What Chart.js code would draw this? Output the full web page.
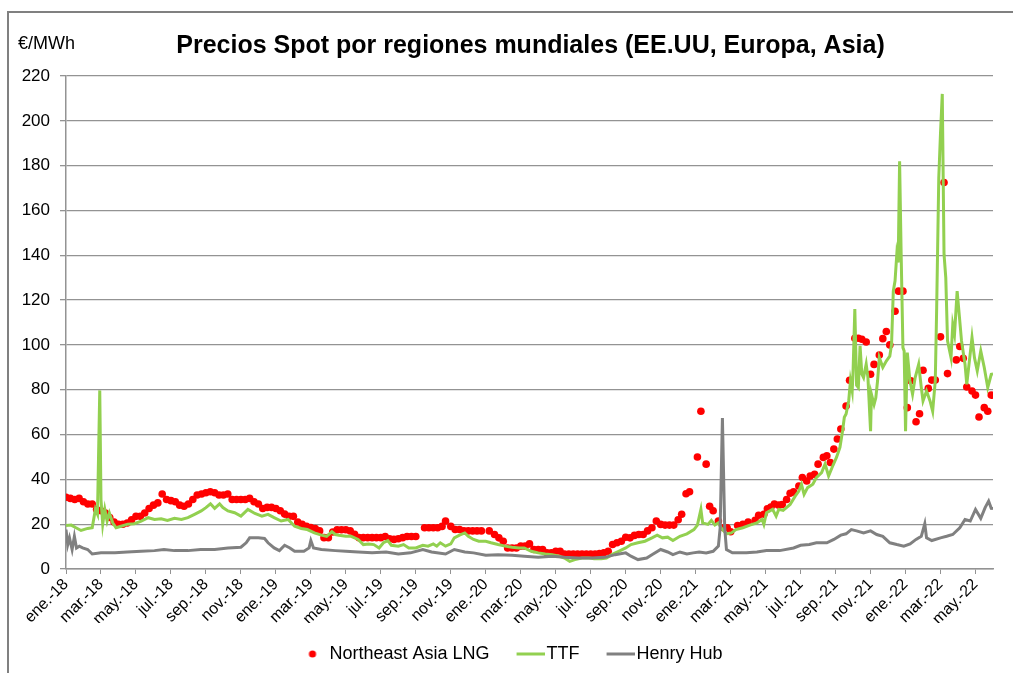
<!DOCTYPE html>
<html>
<head>
<meta charset="utf-8">
<script src="https://cdn.jsdelivr.net/npm/chart.js@4.4.1/dist/chart.umd.min.js"></script>
<style>
  body { margin: 0; background: #fff; }
  #wrap { position: relative; width: 1013px; height: 673px; }
  #frame { position: absolute; left: 7px; top: 11px; right: 0; bottom: 0;
           border-top: 2px solid #808080; border-left: 2px solid #808080; }
  #spot_chart { position: relative; }
</style>
</head>
<body>
<div id="wrap">
  <div id="frame"></div>
  <canvas id="spot_chart"></canvas>
</div>
<script>
// Texts
var chartTitle = 'Precios Spot por regiones mundiales (EE.UU, Europa, Asia)';
var unitLabel = '€/MWh';

// X tick labels, one every two months starting at ene.-18.
var tickLabels = [
    'ene.-18', 'mar.-18', 'may.-18', 'jul.-18', 'sep.-18', 'nov.-18',
    'ene.-19', 'mar.-19', 'may.-19', 'jul.-19', 'sep.-19', 'nov.-19',
    'ene.-20', 'mar.-20', 'may.-20', 'jul.-20', 'sep.-20', 'nov.-20',
    'ene.-21', 'mar.-21', 'may.-21', 'jul.-21', 'sep.-21', 'nov.-21',
    'ene.-22', 'mar.-22', 'may.-22'
];

// Series: [months since 1 Jan 2018, €/MWh]
var lngSeries = [
    [0, 32], [0.25, 31.5], [0.5, 31], [0.75, 31.5], [1, 30], [1.25, 29], [1.5, 29], [1.75, 26.5],
    [2, 26], [2.25, 25], [2.5, 23], [2.75, 21], [3, 20], [3.25, 20], [3.5, 20.5], [3.75, 22],
    [4, 23.5], [4.25, 23.5], [4.5, 25], [4.75, 27], [5, 28.5], [5.25, 29.5], [5.5, 33.5], [5.75, 31],
    [6, 30.5], [6.25, 30], [6.5, 28.5], [6.75, 28], [7, 29], [7.25, 31], [7.5, 33], [7.75, 33.5],
    [8, 34], [8.25, 34.5], [8.5, 34], [8.75, 33], [9, 33], [9.25, 33.5], [9.5, 31], [9.75, 31],
    [10, 31], [10.25, 31], [10.5, 31.5], [10.75, 30], [11, 29], [11.25, 27], [11.5, 27.5], [11.75, 27.5],
    [12, 27], [12.25, 26], [12.5, 24.5], [12.75, 23.5], [13, 23.5], [13.25, 21], [13.5, 20], [13.75, 19],
    [14, 18.5], [14.25, 18], [14.5, 17], [14.75, 14], [15, 14], [15.25, 16.5], [15.5, 17.5], [15.75, 17.5],
    [16, 17.5], [16.25, 17], [16.5, 15.5], [16.75, 14], [17, 14], [17.25, 14], [17.5, 14], [17.75, 14],
    [18, 14], [18.25, 14.5], [18.5, 13.5], [18.75, 13.2], [19, 13.5], [19.25, 14], [19.5, 14.5], [19.75, 14.5],
    [20, 14.5], [20.5, 18.4], [20.75, 18.4], [21, 18.4], [21.25, 18.4], [21.5, 19], [21.7, 21.4], [22, 19],
    [22.25, 17.6], [22.5, 17.6], [22.75, 17], [23, 17], [23.25, 17], [23.5, 17], [23.75, 17], [24.2, 17],
    [24.5, 15.4], [24.75, 13.9], [25, 12.4], [25.25, 9.4], [25.5, 9.4], [25.75, 9.4], [26, 10.2], [26.25, 10.2],
    [26.5, 11.2], [26.75, 8.7], [27, 8.7], [27.25, 8.7], [27.5, 7.2], [27.75, 7.2], [28, 7.9], [28.25, 7.9],
    [28.5, 6.7], [28.75, 6.7], [29, 6.7], [29.25, 6.7], [29.5, 6.7], [29.75, 6.7], [30, 6.7], [30.25, 6.7],
    [30.5, 6.9], [30.75, 7.2], [31, 7.9], [31.25, 10.9], [31.5, 11.7], [31.75, 12.4], [32, 14.2], [32.25, 13.9],
    [32.5, 15], [32.75, 15.4], [33, 15.4], [33.25, 17], [33.5, 18.4], [33.75, 21.4], [34, 19.9], [34.25, 19.6],
    [34.5, 19.6], [34.75, 19.6], [35, 22], [35.2, 24.4], [35.45, 33.6], [35.65, 34.5], [36.1, 50], [36.3, 70.4],
    [36.6, 46.8], [36.8, 28], [37, 26], [37.3, 21.4], [37.6, 18.4], [37.8, 18.4], [38, 16.6], [38.4, 19.4],
    [38.7, 19.9], [39, 21], [39.4, 21.7], [39.6, 24], [39.9, 24.4], [40.1, 26.9], [40.3, 27.6], [40.5, 29],
    [40.75, 28.5], [40.95, 28.8], [41.2, 31], [41.4, 33.8], [41.6, 34.4], [41.9, 37], [42.1, 40.8], [42.35, 39.3],
    [42.55, 41.5], [42.8, 42.3], [43, 46.8], [43.3, 49.8], [43.5, 50.5], [43.7, 47.5], [43.9, 53.5], [44.1, 58],
    [44.3, 62.5], [44.6, 72.7], [44.8, 84.2], [45.1, 103], [45.3, 103], [45.5, 102.5], [45.75, 101.3], [46, 86.9],
    [46.2, 91.3], [46.5, 95.5], [46.7, 102.8], [46.9, 106], [47.1, 100], [47.4, 115], [47.6, 124], [47.85, 124],
    [48.1, 72], [48.3, 84], [48.6, 65.7], [48.8, 69.3], [49, 88.7], [49.3, 80.6], [49.5, 84.3], [49.7, 84.3],
    [50, 103.6], [50.2, 172.5], [50.4, 87.2], [50.9, 93.3], [51.1, 99.3], [51.3, 94], [51.5, 81.2], [51.8, 79.4],
    [52, 77.6], [52.2, 67.8], [52.5, 72], [52.7, 70.4], [52.9, 77.6]
];

var ttfSeries = [
    [0, 19.4], [0.3, 19.6], [0.57, 18.4], [0.86, 17.2], [1.24, 18.1], [1.5, 18.4], [1.68, 26.6], [1.8, 24.4],
    [1.93, 79.7], [2.0, 31], [2.1, 20], [2.22, 26.6], [2.35, 21.4], [2.48, 25], [2.67, 20.6], [2.86, 18.4],
    [3.15, 19.1], [3.53, 20], [3.9, 20.2], [4.3, 21.4], [4.7, 22.9], [5.06, 22.1], [5.44, 22.4], [5.8, 21.7],
    [6.2, 22.6], [6.6, 22.1], [6.97, 22.9], [7.35, 24.4], [7.73, 25.9], [8.0, 27.4], [8.26, 29.1], [8.5, 27.1],
    [8.78, 29.1], [8.97, 27.4], [9.26, 25.9], [9.64, 25.1], [10.0, 23.6], [10.4, 26.6], [10.8, 24.8], [11.2, 23.6],
    [11.55, 24.4], [11.9, 22.9], [12.3, 21.4], [12.7, 22.1], [13.07, 19.1], [13.45, 18.1], [13.8, 17.6], [14.2, 16.1],
    [14.6, 15.1], [14.9, 14.6], [15.2, 16.6], [15.4, 15.4], [15.6, 15.1], [16, 14.6], [16.3, 14.6], [16.7, 13.2],
    [17.0, 10.9], [17.3, 11.2], [17.6, 10.9], [17.9, 9.4], [18.15, 11.7], [18.4, 12.7], [18.6, 10.6], [19.0, 10.2],
    [19.3, 10.9], [19.6, 9.4], [20.0, 9.4], [20.4, 10.6], [20.7, 10.2], [21.0, 11.2], [21.2, 10.2], [21.4, 11.7],
    [21.7, 10.2], [22.0, 11.2], [22.2, 13.9], [22.5, 15.1], [22.8, 16.1], [23.0, 14.6], [23.3, 13.2], [23.6, 12.4],
    [24.0, 12.4], [24.3, 11.7], [24.7, 10.9], [25.1, 10.2], [25.5, 9.7], [25.9, 9.4], [26.2, 9.4], [26.6, 7.9],
    [27.0, 7.2], [27.4, 6.7], [27.8, 6.4], [28.2, 5.7], [28.5, 4.9], [28.8, 3.4], [29.1, 4.2], [29.5, 4.9],
    [29.9, 4.9], [30.2, 4.6], [30.6, 4.6], [30.9, 4.9], [31.2, 6.4], [31.6, 7.9], [32.0, 9.4], [32.3, 10.9],
    [32.7, 11.7], [33.1, 12.4], [33.5, 13.9], [33.8, 15.1], [34.1, 13.9], [34.4, 14.2], [34.7, 12.7], [35.1, 14.6],
    [35.5, 15.7], [35.9, 17.6], [36.1, 19.6], [36.3, 26.6], [36.4, 20.6], [36.7, 19.9], [36.9, 21.7], [37.1, 19.6],
    [37.3, 20.6], [37.45, 18.4], [37.76, 15.7], [38.05, 16.1], [38.3, 17.6], [38.7, 18.4], [39.1, 19.6], [39.5, 20.6],
    [39.8, 22.1], [39.9, 19.9], [40.05, 25.1], [40.4, 26.6], [40.6, 23.6], [40.75, 26.6], [41.0, 26.2], [41.4, 28.8],
    [41.7, 32.6], [41.9, 34.8], [42.05, 37.8], [42.2, 33.3], [42.4, 36.3], [42.7, 37.8], [42.9, 40.8], [43.2, 43],
    [43.4, 46.8], [43.6, 41.5], [43.8, 45.3], [44.05, 49.8], [44.25, 54.3], [44.4, 61.7], [44.5, 67.7], [44.6, 69.2],
    [44.75, 75], [44.85, 84], [44.95, 79.5], [45.0, 88.4], [45.1, 116], [45.2, 82], [45.3, 81], [45.4, 99.6],
    [45.5, 87], [45.6, 85.4], [45.75, 91.4], [45.85, 85.4], [46.0, 61.5], [46.05, 78], [46.2, 73.4], [46.3, 76.4],
    [46.4, 84], [46.5, 94.3], [46.7, 90], [46.9, 92.8], [47.1, 95], [47.2, 100.3], [47.3, 124], [47.4, 128.6],
    [47.5, 140.5], [47.58, 136.8], [47.66, 182], [47.75, 140], [47.85, 98.8], [47.92, 97.3], [48.0, 61.5], [48.1, 96.6],
    [48.25, 84], [48.4, 78], [48.55, 85.4], [48.75, 91.3], [48.9, 81], [49.0, 75], [49.2, 79.4], [49.4, 75],
    [49.55, 70.4], [49.7, 84], [49.78, 116.7], [49.9, 174.7], [50.0, 194.8], [50.1, 212], [50.2, 140.5], [50.3, 130],
    [50.4, 101.8], [50.6, 94.3], [50.7, 109], [50.8, 104.8], [50.95, 124], [51.1, 110.7], [51.2, 101.8], [51.4, 91.4],
    [51.5, 82.4], [51.65, 92.9], [51.8, 103.3], [51.94, 94.3], [52.1, 88.4], [52.3, 97.3], [52.5, 89.9], [52.7, 81],
    [52.9, 86.9], [53, 87]
];

var henrySeries = [
    [0, 17.6], [0.1, 10.9], [0.2, 13.9], [0.35, 8.7], [0.48, 14.6], [0.6, 9.4], [0.76, 10.2], [0.95, 9.4],
    [1.24, 8.7], [1.5, 6.7], [2.0, 7.2], [2.8, 7.2], [3.5, 7.6], [4.3, 7.9], [5.06, 8.2], [5.6, 8.7],
    [6.2, 8.2], [6.97, 8.2], [7.7, 8.7], [8.5, 8.7], [9.26, 9.4], [10.0, 9.7], [10.3, 11.7], [10.5, 13.9],
    [11.0, 13.9], [11.35, 13.6], [11.55, 11.7], [11.9, 9.4], [12.2, 8.2], [12.5, 10.6], [12.8, 9.4], [13.07, 7.9],
    [13.6, 7.9], [13.9, 9.4], [14.0, 12.7], [14.15, 9.4], [14.6, 8.7], [15.4, 8.2], [16, 7.9], [16.7, 7.6],
    [17.5, 7.2], [18.3, 7.6], [19, 6.7], [19.7, 7.2], [20.4, 8.7], [20.9, 7.6], [21.7, 6.7], [22.2, 8.7],
    [22.8, 7.6], [23.3, 7.2], [24, 6.1], [24.7, 6.4], [25.5, 6.1], [26.2, 5.7], [27, 5.2], [27.8, 5.7],
    [28.5, 5.2], [29.3, 4.9], [30.05, 4.9], [30.8, 5.2], [31.4, 6.4], [32, 7.2], [32.3, 5.7], [32.7, 4.2],
    [33.2, 4.9], [33.5, 6.4], [34, 8.7], [34.4, 7.6], [34.7, 6.4], [35.1, 7.6], [35.5, 6.7], [35.85, 7.2],
    [36.2, 7.6], [36.6, 7.2], [37, 7.9], [37.3, 10.2], [37.4, 18.4], [37.53, 67.4], [37.66, 18.4], [37.76, 8.7],
    [38.1, 7.2], [38.9, 7.2], [39.5, 7.6], [40.05, 8.2], [40.8, 8.2], [41.6, 9.4], [42, 10.6], [42.5, 10.9],
    [42.9, 11.7], [43.5, 11.7], [43.9, 13.2], [44.3, 15.1], [44.6, 15.7], [44.9, 17.6], [45.2, 17], [45.6, 16.1],
    [46, 17], [46.35, 15.4], [46.7, 14.6], [47.1, 11.7], [47.5, 10.9], [47.9, 10.2], [48.26, 11.2], [48.6, 13.2],
    [48.9, 14.6], [49.1, 20.2], [49.2, 13.9], [49.5, 12.7], [50, 13.9], [50.35, 14.6], [50.7, 15.4], [51.1, 18.4],
    [51.4, 22.1], [51.7, 21.4], [52, 26.6], [52.3, 22.6], [52.55, 27.4], [52.75, 30.3], [52.9, 27.1], [53, 27]
];

var baseFont = '"Liberation Sans", Arial, sans-serif';
var lngColor = '#ff0000';
var ttfColor = '#92d050';
var henryColor = '#808080';
var gridColor = '#939393';

// Turn [x, y] pairs into chart.js point objects.
function to_points(series) {
    return series.map(function(p) { return {x: p[0], y: p[1]}; });
}

// Legend markers. Drawn as small images so the gap to the text matches
// the original (dot a bit away from the text, lines almost touching it).
function make_marker(draw) {
    var c = document.createElement('canvas');
    c.width = 40;
    c.height = 10;
    draw(c.getContext('2d'));
    return c;
}

var dotMarker = make_marker(function(g) {
    g.fillStyle = lngColor;
    g.beginPath();
    g.arc(25, 5, 3.6, 0, Math.PI * 2);
    g.fill();
});

function line_marker(color) {
    return make_marker(function(g) {
        g.fillStyle = color;
        g.fillRect(12, 3.5, 28, 3);
    });
}

var legendMarkers = [dotMarker, line_marker(ttfColor), line_marker(henryColor)];

// Draws the title and the unit label above the plot area.
var titlePlugin = {
    id: 'titleAndUnit',
    afterDraw(chart) {
        const {ctx, chartArea} = chart;
        ctx.save();
        ctx.fillStyle = '#000';
        ctx.textBaseline = 'middle';
        ctx.font = 'bold 25px ' + baseFont;
        ctx.textAlign = 'center';
        ctx.fillText(chartTitle, (chartArea.left + chartArea.right) / 2 + 1, chartArea.top - 30);
        ctx.font = '18px ' + baseFont;
        ctx.textAlign = 'left';
        ctx.fillText(unitLabel, 18, chartArea.top - 32);
        ctx.restore();
    }
};

// The original legend sits a little right of the canvas centre.
var legendShift = {
    id: 'legendShift',
    afterLayout(chart) {
        if (chart.legend) {
            chart.legend.left += 12;
            chart.legend.right += 12;
        }
    }
};

new Chart(document.getElementById('spot_chart'), {
    type: 'line',
    data: {
        datasets: [
            {
                label: 'Northeast Asia LNG',
                data: to_points(lngSeries),
                showLine: false,
                pointRadius: 3.8,
                pointHoverRadius: 3.8,
                pointBorderWidth: 0,
                backgroundColor: lngColor,
                borderColor: lngColor,
                order: 3
            },
            {
                label: 'TTF',
                data: to_points(ttfSeries),
                borderColor: ttfColor,
                backgroundColor: ttfColor,
                borderWidth: 3,
                pointRadius: 0,
                tension: 0,
                order: 2
            },
            {
                label: 'Henry Hub',
                data: to_points(henrySeries),
                borderColor: henryColor,
                backgroundColor: henryColor,
                borderWidth: 3,
                pointRadius: 0,
                tension: 0,
                order: 1
            }
        ]
    },
    options: {
        responsive: true,
        maintainAspectRatio: false,
        animation: false,
        layout: {
            padding: {left: 0, right: 20, top: 76, bottom: 0}
        },
        scales: {
            x: {
                type: 'linear',
                min: 0,
                max: 53,
                afterBuildTicks: (scale) => {
                    scale.ticks = tickLabels.map((_, i) => ({value: i * 2}));
                },
                afterFit: (scale) => { scale.height = 54; },
                grid: {
                    drawOnChartArea: false,
                    color: gridColor,
                    tickLength: 5
                },
                border: {color: gridColor, width: 1.5},
                ticks: {
                    autoSkip: false,
                    maxRotation: 45,
                    minRotation: 45,
                    padding: 1,
                    color: '#000',
                    font: {family: baseFont, size: 16},
                    callback: (value) => tickLabels[Math.round(value / 2)]
                }
            },
            y: {
                min: 0,
                max: 220,
                afterFit: (scale) => { scale.width = 66; },
                grid: {
                    color: gridColor,
                    lineWidth: 1.3,
                    tickLength: 6
                },
                border: {color: gridColor, width: 1.5},
                ticks: {
                    stepSize: 20,
                    padding: 10,
                    color: '#000',
                    font: {family: baseFont, size: 17}
                }
            }
        },
        plugins: {
            title: {display: false},
            tooltip: {enabled: false},
            legend: {
                position: 'bottom',
                labels: {
                    usePointStyle: true,
                    pointStyleWidth: 26,
                    padding: 22,
                    color: '#000',
                    font: {family: baseFont, size: 18},
                    // Keep the dataset order (LNG, TTF, Henry Hub) in the legend.
                    sort: (a, b) => a.datasetIndex - b.datasetIndex,
                    generateLabels: (chart) => {
                        const items = Chart.defaults.plugins.legend.labels.generateLabels(chart);
                        items.forEach((item) => {
                            item.pointStyle = legendMarkers[item.datasetIndex];
                        });
                        return items;
                    }
                }
            }
        }
    },
    plugins: [titlePlugin, legendShift]
});
</script>
</body>
</html>
